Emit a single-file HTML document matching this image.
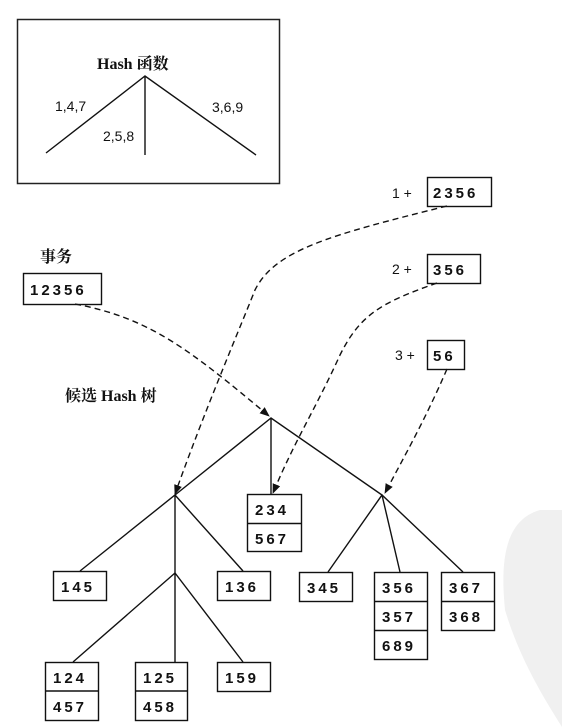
<!DOCTYPE html>
<html><head><meta charset="utf-8"><style>
html,body{margin:0;padding:0;background:#fff;}
svg{display:block;}
.n{font-family:"Liberation Sans",sans-serif;font-size:15px;font-weight:bold;letter-spacing:3px;fill:#111;}
.l{font-family:"Liberation Sans",sans-serif;font-size:14px;fill:#111;}
.s{font-family:"Liberation Serif","Noto Serif CJK SC",serif;font-size:16px;font-weight:bold;fill:#111;}
</style></head><body>
<svg width="562" height="727" viewBox="0 0 562 727" xmlns="http://www.w3.org/2000/svg">
<defs><marker id="a" markerWidth="10" markerHeight="10" refX="9" refY="5" orient="auto" markerUnits="userSpaceOnUse"><path d="M0,1 L10,5 L0,9 Z" fill="#111"/></marker></defs>
<path d="M540,510 C505,520 500,560 505,610 C520,660 545,700 562,727 L562,510 Z" fill="#f0f0f0"/>
<rect x="17.5" y="19.5" width="262" height="164" fill="none" stroke="#222" stroke-width="1.5"/>
<text class="s" x="97" y="69">Hash 函数</text>
<g stroke="#111" stroke-width="1.4" fill="none">
<path d="M46,153 L145,76 L256,155 M145,76 L145,155"/>
</g>
<text class="l" x="55" y="111">1,4,7</text>
<text class="l" x="103" y="141">2,5,8</text>
<text class="l" x="212" y="112">3,6,9</text>

<text class="s" x="40" y="262">事务</text>
<rect x="23.5" y="273.5" width="78" height="31" fill="none" stroke="#111" stroke-width="1.4"/>
<text class="n" x="30" y="295">12356</text>

<text class="l" x="392" y="198">1 +</text>
<rect x="427.5" y="177.5" width="64" height="29" fill="none" stroke="#111" stroke-width="1.4"/>
<text class="n" x="433" y="198">2356</text>
<text class="l" x="392" y="274">2 +</text>
<rect x="427.5" y="254.5" width="53" height="29" fill="none" stroke="#111" stroke-width="1.4"/>
<text class="n" x="433" y="275">356</text>
<text class="l" x="395" y="360">3 +</text>
<rect x="427.5" y="340.5" width="37" height="29" fill="none" stroke="#111" stroke-width="1.4"/>
<text class="n" x="433" y="361">56</text>

<text class="s" x="65" y="401">候选 Hash 树</text>

<g stroke="#111" stroke-width="1.4" fill="none" stroke-dasharray="6,4">
<path d="M75,304 C150,318 190,350 269,416" marker-end="url(#a)"/>
<path d="M447,206 C330,235 275,250 255,290 C235,340 205,410 175,494" marker-end="url(#a)"/>
<path d="M437,283 C380,303 360,315 340,355 C315,410 295,440 273,493" marker-end="url(#a)"/>
<path d="M447,369 C425,420 405,455 385,493" marker-end="url(#a)"/>
</g>

<g stroke="#111" stroke-width="1.4" fill="none">
<path d="M175,495 L271,418 L382,495 M271,418 L271,494"/>
<path d="M80,571 L175,495 L243,571 M175,495 L175,573"/>
<path d="M73,662 L175,573 L243,662 M175,573 L175,662"/>
<path d="M328,572 L382,495 L463,572 M382,495 L400,572"/>
</g>

<g stroke="#111" stroke-width="1.4" fill="#fff">
<rect x="53.5" y="571.5" width="53" height="29"/>
<rect x="217.5" y="571.5" width="53" height="29"/>
<rect x="247.5" y="494.5" width="54" height="57"/><path d="M247.5,523.5 H301.5"/>
<rect x="45.5" y="662.5" width="53" height="58"/><path d="M45.5,691 H98.5"/>
<rect x="135.5" y="662.5" width="52" height="58"/><path d="M135.5,691 H187.5"/>
<rect x="217.5" y="662.5" width="53" height="29"/>
<rect x="299.5" y="572.5" width="53" height="29"/>
<rect x="374.5" y="572.5" width="53" height="87"/><path d="M374.5,601.5 H427.5 M374.5,630.5 H427.5"/>
<rect x="441.5" y="572.5" width="53" height="58"/><path d="M441.5,601.5 H494.5"/>
</g>

<text class="n" x="61" y="592">145</text>
<text class="n" x="225" y="592">136</text>
<text class="n" x="255" y="515">234</text>
<text class="n" x="255" y="544">567</text>
<text class="n" x="53" y="683">124</text>
<text class="n" x="53" y="712">457</text>
<text class="n" x="143" y="683">125</text>
<text class="n" x="143" y="712">458</text>
<text class="n" x="225" y="683">159</text>
<text class="n" x="307" y="593">345</text>
<text class="n" x="382" y="593">356</text>
<text class="n" x="382" y="622">357</text>
<text class="n" x="382" y="651">689</text>
<text class="n" x="449" y="593">367</text>
<text class="n" x="449" y="622">368</text>
</svg>
</body></html>
